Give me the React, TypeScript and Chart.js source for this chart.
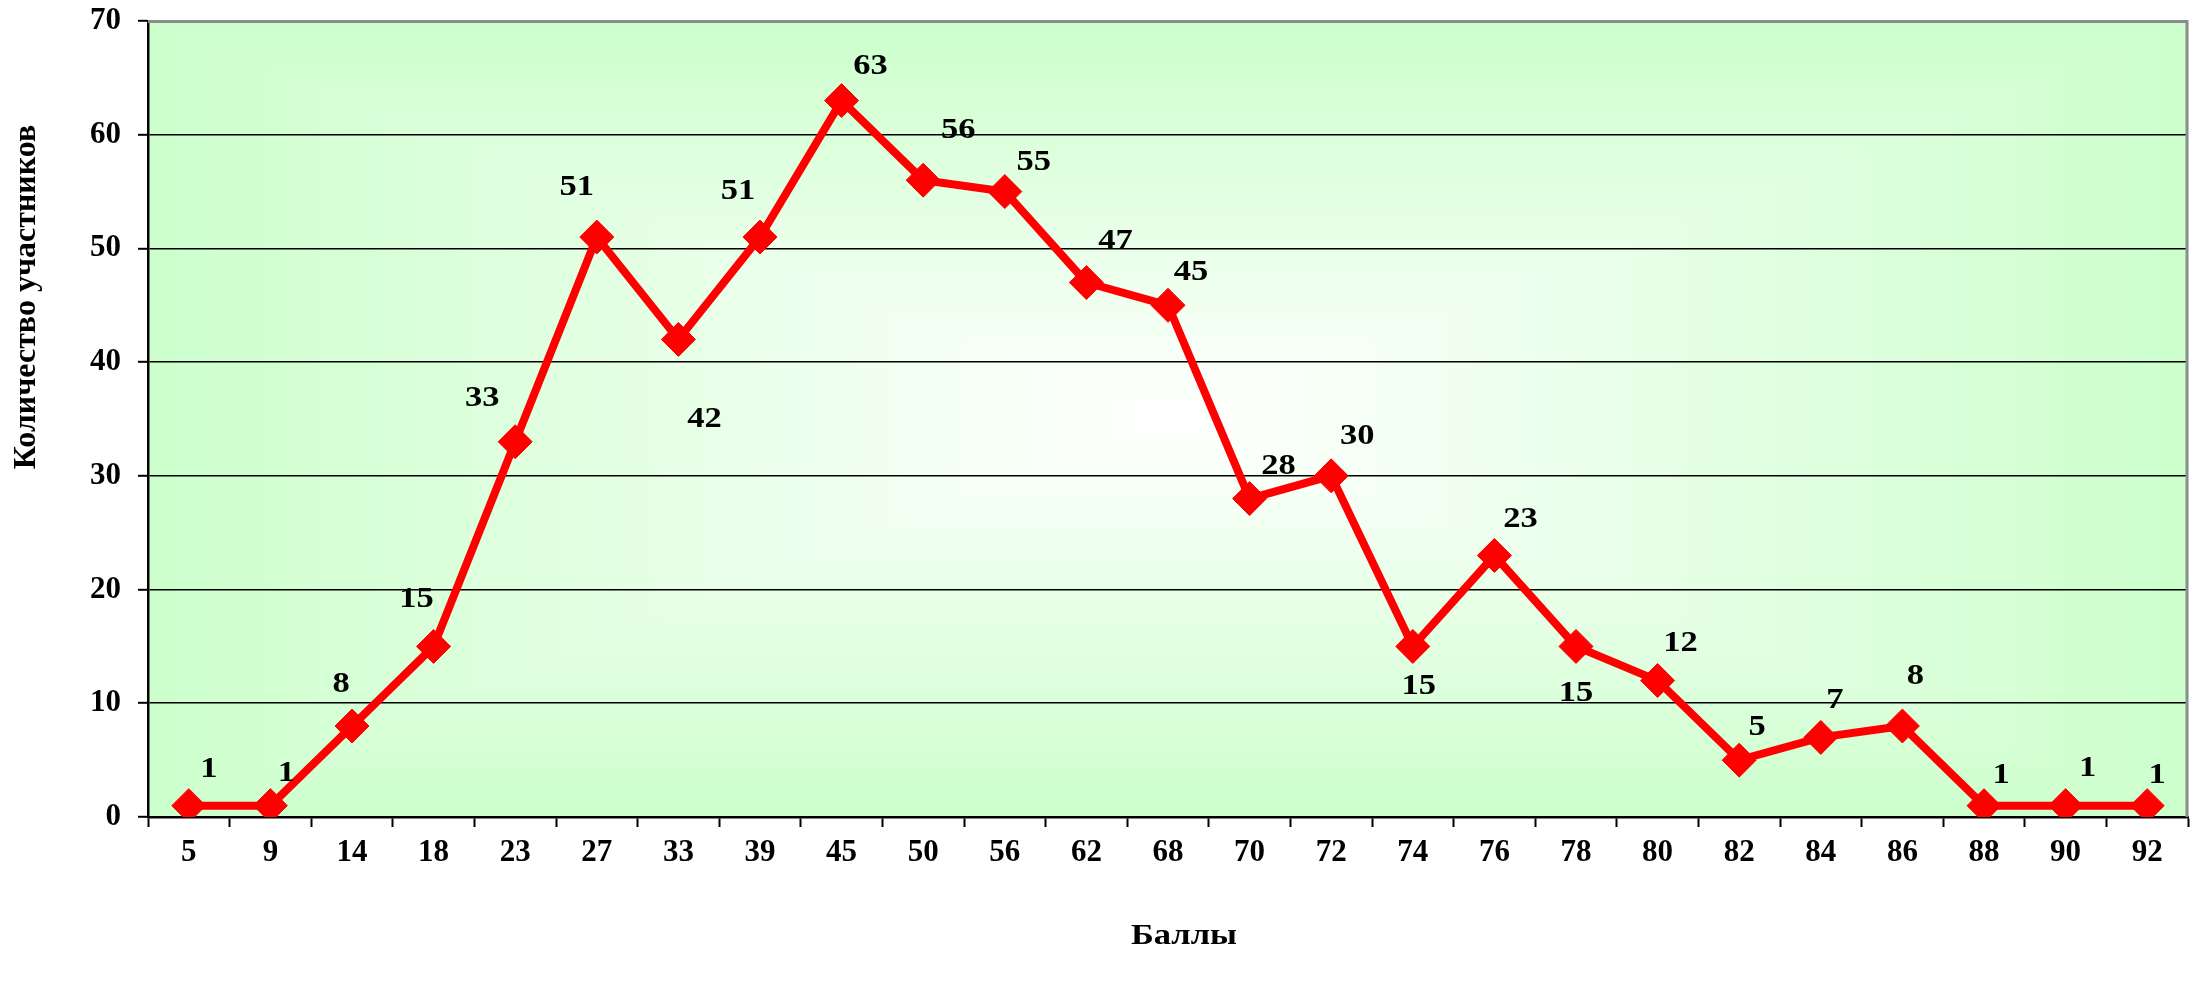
import React, { useEffect, useRef } from "react";
import { Chart, registerables } from "chart.js";

Chart.register(...registerables);

const categories = ["5", "9", "14", "18", "23", "27", "33", "39", "45", "50", "56", "62", "68", "70", "72", "74", "76", "78", "80", "82", "84", "86", "88", "90", "92"];
const participants = [1, 1, 8, 15, 33, 51, 42, 51, 63, 56, 55, 47, 45, 28, 30, 15, 23, 15, 12, 5, 7, 8, 1, 1, 1];
const yTitle = "Количество участников";
const xTitle = "Баллы";

// label offsets (dx, dy) from each point, in pixels
const labelOffsets: [number, number][] = [
  [20, -36], [16, -32], [-11, -42], [-17, -47], [-33, -43], [-20, -50], [26, 80], [-22, -46],
  [29, -34], [35, -50], [29, -29], [29, -41], [23, -33], [29, -32], [26, -40], [6, 40],
  [26, -36], [0, 47], [23, -37], [18, -33], [14, -37], [13, -50], [17, -30], [22, -37], [10, -30],
];

const SERIF = "'Liberation Serif', 'Times New Roman', serif";

const bgPlugin = {
  id: "bgGradient",
  beforeDraw(chart: any) {
    const { ctx, chartArea } = chart;
    const { left, right, top, bottom } = chartArea;
    const cx = (left + right) / 2;
    const cy = (top + bottom) / 2;
    const edge = "#ccffcc";
    const mid = "#ffffff";
    ctx.save();
    ctx.fillStyle = edge;
    ctx.fillRect(left, top, right - left, bottom - top);
    const tri = (pts: number[][], g: CanvasGradient) => {
      ctx.beginPath();
      ctx.moveTo(pts[0][0], pts[0][1]);
      ctx.lineTo(pts[1][0], pts[1][1]);
      ctx.lineTo(pts[2][0], pts[2][1]);
      ctx.closePath();
      ctx.fillStyle = g;
      ctx.fill();
      ctx.strokeStyle = g;
      ctx.lineWidth = 1;
      ctx.stroke();
    };
    let g = ctx.createLinearGradient(cx, top, cx, cy);
    g.addColorStop(0, edge); g.addColorStop(1, mid);
    tri([[left, top], [right, top], [cx, cy]], g);
    g = ctx.createLinearGradient(cx, bottom, cx, cy);
    g.addColorStop(0, edge); g.addColorStop(1, mid);
    tri([[left, bottom], [right, bottom], [cx, cy]], g);
    g = ctx.createLinearGradient(left, cy, cx, cy);
    g.addColorStop(0, edge); g.addColorStop(1, mid);
    tri([[left, top], [left, bottom], [cx, cy]], g);
    g = ctx.createLinearGradient(right, cy, cx, cy);
    g.addColorStop(0, edge); g.addColorStop(1, mid);
    tri([[right, top], [right, bottom], [cx, cy]], g);
    ctx.restore();
  },
  beforeDatasetsDraw(chart: any) {
    const { ctx, chartArea } = chart;
    const { left, right, top, bottom } = chartArea;
    ctx.save();
    ctx.strokeStyle = "#8c8c8c";
    ctx.lineWidth = 3;
    ctx.beginPath();
    ctx.moveTo(left, top + 0.5);
    ctx.lineTo(right - 1, top + 0.5);
    ctx.lineTo(right - 1, bottom);
    ctx.stroke();
    ctx.restore();
  },
};

const drawStretched = (ctx: CanvasRenderingContext2D, text: string, x: number, y: number, sx: number) => {
  ctx.save();
  ctx.translate(x, y);
  ctx.scale(sx, 1);
  ctx.fillText(text, 0, 0);
  ctx.restore();
};

const labelPlugin = {
  id: "pointLabels",
  afterDatasetsDraw(chart: any) {
    const { ctx } = chart;
    const meta = chart.getDatasetMeta(0);
    ctx.save();
    ctx.font = `bold 30px ${SERIF}`;
    ctx.fillStyle = "#000";
    ctx.textAlign = "center";
    ctx.textBaseline = "middle";
    meta.data.forEach((pt: any, i: number) => {
      const [dx, dy] = labelOffsets[i] || [0, -30];
      drawStretched(ctx, String(participants[i]), pt.x + dx, pt.y + dy, 1.15);
    });
    ctx.restore();
  },
  afterDraw(chart: any) {
    const { ctx, chartArea } = chart;
    ctx.save();
    ctx.fillStyle = "#000";
    ctx.textAlign = "center";
    ctx.textBaseline = "middle";
    ctx.font = `bold 30px ${SERIF}`;
    drawStretched(ctx, xTitle, (chartArea.left + chartArea.right) / 2 + 16, 936, 1.15);
    ctx.font = `bold 32px ${SERIF}`;
    ctx.translate(27, 297);
    ctx.rotate(-Math.PI / 2);
    ctx.fillText(yTitle, 0, 0);
    ctx.restore();
  },
};

export default function App() {
  const ref = useRef<HTMLCanvasElement>(null);
  useEffect(() => {
    document.body.style.margin = "0";
    const canvas = ref.current;
    if (!canvas) return;
    const chart = new Chart(canvas, {
      type: "line",
      data: {
        labels: categories,
        datasets: [
          {
            data: participants,
            borderColor: "#ff0000",
            backgroundColor: "#ff0000",
            borderWidth: 8,
            pointStyle: "rectRot",
            pointRadius: 17,
            pointBorderWidth: 1,
            pointBackgroundColor: "#ff0000",
            pointBorderColor: "#ff0000",
            tension: 0,
            fill: false,
          },
        ],
      },
      options: {
        responsive: false,
        animation: false,
        devicePixelRatio: 1,
        layout: { autoPadding: false, padding: { top: 21, right: 9, left: 0, bottom: 0 } },
        plugins: {
          legend: { display: false },
          tooltip: { enabled: false },
          title: { display: false },
        },
        scales: {
          x: {
            offset: true,
            grid: {
              offset: true,
              drawOnChartArea: false,
              drawTicks: true,
              tickLength: 10,
              tickColor: "#000",
              tickWidth: 2,
            },
            border: { color: "#000", width: 2.5 },
            ticks: {
              color: "#000",
              font: { family: SERIF, size: 31, weight: "bold" },
              padding: 7,
              maxRotation: 0,
              autoSkip: false,
            },
            afterFit: (scale: any) => {
              scale.height = 171;
              scale.paddingLeft = 0;
              scale.paddingRight = 0;
            },
          },
          y: {
            min: 0,
            max: 70,
            ticks: {
              stepSize: 10,
              color: "#000",
              font: { family: SERIF, size: 31, weight: "bold" },
              padding: 17,
            },
            grid: {
              color: (c: any) => (c.tick && c.tick.value === 70 ? "rgba(0,0,0,0)" : "#000"),
              lineWidth: 1.6,
              tickLength: 10,
              tickColor: "#000",
              tickWidth: 2,
            },
            border: { color: "#000", width: 2.5 },
            afterFit: (scale: any) => {
              scale.width = 148;
              scale.paddingTop = 0;
              scale.paddingBottom = 0;
            },
          },
        },
      },
      plugins: [bgPlugin, labelPlugin],
    });
    return () => chart.destroy();
  }, []);
  return (
    <div style={{ width: 2197, height: 988, background: "#fff" }}>
      <canvas ref={ref} width={2197} height={988} style={{ display: "block", width: 2197, height: 988 }} />
    </div>
  );
}
